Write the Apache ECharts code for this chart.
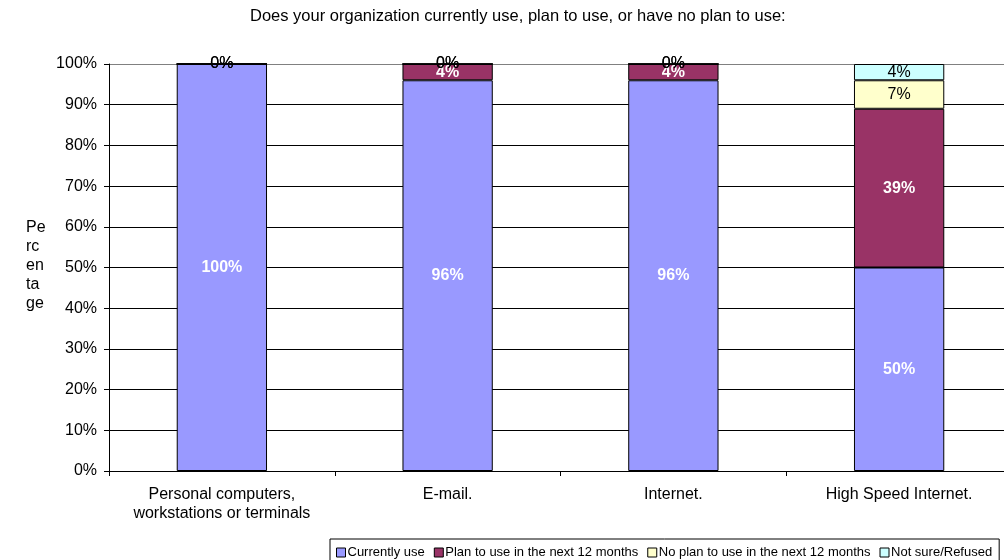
<!DOCTYPE html>
<html>
<head>
<meta charset="utf-8">
<script src="https://cdn.jsdelivr.net/npm/echarts@6/dist/echarts.min.js"></script>
<style>
html,body{margin:0;padding:0;background:#fff;}
#chart{width:1004px;height:560px;}
</style>
</head>
<body>
<div id="chart"></div>
<script>
var categories = ["Personal computers,\nworkstations or terminals", "E-mail.", "Internet.", "High Speed Internet."];
var currentlyUse = [100, 96, 96, 50];
var planToUse = [0, 4, 4, 39];
var noPlan = [0, 0, 0, 7];
var notSure = [0, 0, 0, 4];
var seriesNames = ["Currently use", "Plan to use in the next 12 months", "No plan to use in the next 12 months", "Not sure/Refused"];
var yTicks = [0, 10, 20, 30, 40, 50, 60, 70, 80, 90, 100];
var titleText = "Does your organization currently use, plan to use, or have no plan to use:";

var FONT = '"Liberation Sans", Arial, sans-serif';
var colors = ["#9999FF", "#993366", "#FFFFCC", "#CCFFFF"];

function mkSeries(name, data, color, labelColor, bold, hideZero) {
  return {
    name: name,
    type: 'bar',
    stack: 'total',
    data: data,
    barWidth: '40%',
    itemStyle: { color: color, borderColor: '#000', borderWidth: 1 },
    label: {
      show: true,
      position: 'inside',
      color: labelColor,
      fontFamily: FONT,
      fontSize: 16,
      fontWeight: bold ? 'bold' : 'normal',
      formatter: function (p) { return (hideZero && p.value === 0) ? '' : p.value + '%'; }
    },
    emphasis: { disabled: true }
  };
}

var splitColors = yTicks.map(function (v) { return v === 100 ? '#808080' : '#000'; });

var chart = echarts.init(document.getElementById('chart'), null, { renderer: 'canvas' });
chart.setOption({
  animation: false,
  backgroundColor: '#fff',
  title: {
    text: titleText,
    left: 245,
    top: 8,
    padding: [0, 5],
    textStyle: { fontFamily: FONT, fontSize: 16.5, fontWeight: 'normal', color: '#000' }
  },
  graphic: [{
    type: 'text',
    left: 26,
    top: 218,
    style: {
      text: 'Pe\nrc\nen\nta\nge',
      font: '16px ' + FONT,
      fill: '#000',
      lineHeight: 19
    }
  }],
  legend: {
    left: 330,
    top: 539,
    width: 680,
    padding: [7, 7, 8, 6],
    borderColor: '#000',
    borderWidth: 1,
    itemWidth: 9,
    itemHeight: 9,
    itemGap: 9,
    icon: 'rect',
    selectedMode: false,
    textStyle: { fontFamily: FONT, fontSize: 13, color: '#000', padding: [0, 0, 0, -3] },
    itemStyle: { borderColor: '#000', borderWidth: 1 },
    data: seriesNames
  },
  grid: { left: 109, width: 903, top: 64, bottom: 89, outerBoundsMode: 'none', containLabel: false },
  xAxis: {
    type: 'category',
    data: categories,
    axisLine: { lineStyle: { color: '#000', width: 1 } },
    axisTick: { show: true, length: 5, lineStyle: { color: '#000' } },
    axisLabel: { color: '#000', fontFamily: FONT, fontSize: 16, margin: 14, lineHeight: 19, interval: 0 }
  },
  yAxis: {
    type: 'value',
    min: 0,
    max: 100,
    interval: 10,
    axisLine: { show: true, lineStyle: { color: '#000', width: 1 } },
    axisTick: { show: true, length: 5, lineStyle: { color: '#000' } },
    axisLabel: { color: '#000', fontFamily: FONT, fontSize: 16, margin: 12, formatter: '{value}%' },
    splitLine: { show: true, lineStyle: { color: splitColors, width: 1 } }
  },
  series: [
    mkSeries(seriesNames[0], currentlyUse, colors[0], '#fff', true, false),
    mkSeries(seriesNames[1], planToUse, colors[1], '#fff', true, true),
    mkSeries(seriesNames[2], noPlan, colors[2], '#000', false, false),
    mkSeries(seriesNames[3], notSure, colors[3], '#000', false, false)
  ]
});
</script>
</body>
</html>
